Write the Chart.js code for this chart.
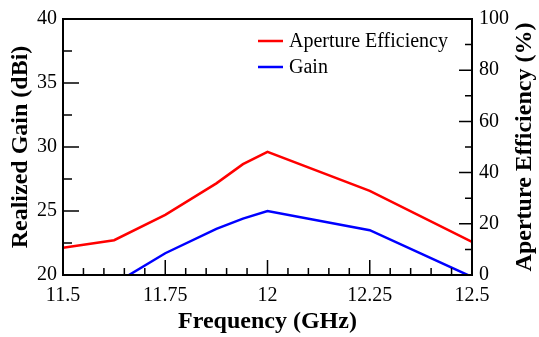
<!DOCTYPE html>
<html>
<head>
<meta charset="utf-8">
<script src="https://cdn.jsdelivr.net/npm/chart.js@4/dist/chart.umd.min.js"></script>
<style>
  html, body { margin: 0; padding: 0; background: #fff; }
  canvas { display: block; }
</style>
</head>
<body>
<canvas id="grafico" width="539" height="337"></canvas>
<script>
// valores
const frequencia = [11.5, 11.625, 11.75, 11.875, 11.94, 12, 12.25, 12.5];
const ganho = [18.9, 19.3, 21.7, 23.6, 24.4, 25.0, 23.5, 19.85];
const eficiencia = [10.6, 13.6, 23.5, 35.8, 43.3, 48.1, 32.9, 12.9];

const ticksX = [11.5, 11.75, 12, 12.25, 12.5];
const ticksGanho = [20, 25, 30, 35, 40];
const ticksEficiencia = [0, 20, 40, 60, 80, 100];

const fonte = "'Liberation Serif', 'Times New Roman', serif";

function pontos(ys) {
  let out = [];
  for (let i = 0; i < frequencia.length; i++) out.push({ x: frequencia[i], y: ys[i] });
  return out;
}

// moldura, marcas internas, titulos e legenda
const moldura = {
  id: "moldura",
  afterDraw(chart) {
    const ctx = chart.ctx;
    const a = chart.chartArea;
    const sx = chart.scales.x, sy = chart.scales.y, sy2 = chart.scales.y2;
    ctx.save();
    ctx.strokeStyle = "#000";
    ctx.lineWidth = 1.5;

    // marcas do eixo x (para dentro)
    ctx.beginPath();
    for (let i = 0; i <= 20; i++) {
      let v = ticksX[0] + i * 0.05;
      let px = sx.getPixelForValue(v);
      let len = i % 5 == 0 ? 15 : 7;
      ctx.moveTo(px, a.bottom);
      ctx.lineTo(px, a.bottom - len);
    }
    // eixo esquerdo
    for (let i = 0; i <= 8; i++) {
      let v = 20 + i * 2.5;
      let py = sy.getPixelForValue(v);
      let len = i % 2 == 0 ? 16 : 9;
      ctx.moveTo(a.left, py);
      ctx.lineTo(a.left + len, py);
    }
    // eixo direito
    for (let i = 0; i <= 10; i++) {
      let v = i * 10;
      let py = sy2.getPixelForValue(v);
      let len = i % 2 == 0 ? 13 : 7;
      ctx.moveTo(a.right, py);
      ctx.lineTo(a.right - len, py);
    }
    ctx.stroke();

    ctx.lineWidth = 2;
    ctx.strokeRect(a.left, a.top, a.right - a.left, a.bottom - a.top);

    // titulos
    ctx.fillStyle = "#000";
    ctx.font = "bold 24px " + fonte;
    ctx.textAlign = "center";
    ctx.textBaseline = "middle";
    ctx.fillText("Frequency (GHz)", (a.left + a.right) / 2, 322);

    ctx.save();
    ctx.translate(21, (a.top + a.bottom) / 2);
    ctx.rotate(-Math.PI / 2);
    ctx.fillText("Realized Gain (dBi)", 0, 0);
    ctx.restore();

    ctx.save();
    ctx.translate(525, (a.top + a.bottom) / 2);
    ctx.rotate(-Math.PI / 2);
    ctx.fillText("Aperture Efficiency (%)", 0, 0);
    ctx.restore();

    // legenda
    ctx.font = "20px " + fonte;
    ctx.textAlign = "left";
    let ly = 41;
    chart.data.datasets.forEach(function (ds) {
      ctx.strokeStyle = ds.borderColor;
      ctx.lineWidth = 2.5;
      ctx.beginPath();
      ctx.moveTo(258, ly);
      ctx.lineTo(283, ly);
      ctx.stroke();
      ctx.fillText(ds.label, 289, ly + 1);
      ly += 26;
    });
    ctx.restore();
  },
};

const fonteTicks = { family: fonte, size: 20 };
const semGrade = { display: false, drawTicks: false };

const config = {
  type: "line",
  data: {
    datasets: [
      {
        label: "Aperture Efficiency",
        data: pontos(eficiencia),
        borderColor: "#ff0000",
        borderWidth: 2.5,
        pointRadius: 0,
        tension: 0,
        yAxisID: "y2",
      },
      {
        label: "Gain",
        data: pontos(ganho),
        borderColor: "#0000ff",
        borderWidth: 2.5,
        pointRadius: 0,
        tension: 0,
        yAxisID: "y",
      },
    ],
  },
  options: {
    responsive: false,
    animation: false,
    layout: { padding: { top: 17, left: 0, right: 0, bottom: 0 } },
    plugins: { legend: { display: false }, tooltip: { enabled: false } },
    scales: {
      x: {
        type: "linear",
        min: 11.5,
        max: 12.5,
        afterBuildTicks: (s) => { s.ticks = ticksX.map((v) => ({ value: v })); },
        ticks: { font: fonteTicks, color: "#000", padding: 9, maxRotation: 0,
          callback: (v) => String(Math.round(v * 100) / 100) },
        grid: semGrade,
        border: { display: false },
        afterFit: (s) => { s.height = 62; },
      },
      y: {
        position: "left",
        min: 20,
        max: 40,
        afterBuildTicks: (s) => { s.ticks = ticksGanho.map((v) => ({ value: v })); },
        ticks: { font: fonteTicks, color: "#000", padding: 6 },
        grid: semGrade,
        border: { display: false },
        afterFit: (s) => { s.width = 63; },
      },
      y2: {
        position: "right",
        min: 0,
        max: 100,
        afterBuildTicks: (s) => { s.ticks = ticksEficiencia.map((v) => ({ value: v })); },
        ticks: { font: fonteTicks, color: "#000", padding: 7 },
        grid: semGrade,
        border: { display: false },
        afterFit: (s) => { s.width = 67; },
      },
    },
  },
  plugins: [moldura],
};

var ctx = document.getElementById("grafico").getContext("2d");
window.grafico = new Chart(ctx, config);
</script>
</body>
</html>
